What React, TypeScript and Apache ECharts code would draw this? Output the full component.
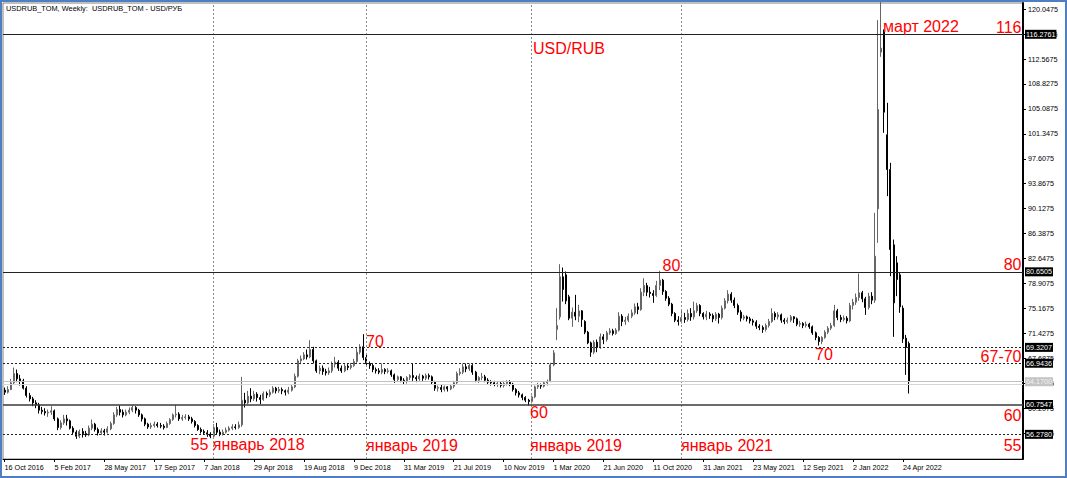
import React, { useEffect, useRef } from "react";
import * as echarts from "echarts";

const titleText = "USDRUB_TOM, Weekly:  USDRUB_TOM - USD/РУБ";

const tickLabels = [
  "16 Oct 2016", "5 Feb 2017", "28 May 2017", "17 Sep 2017", "7 Jan 2018",
  "29 Apr 2018", "19 Aug 2018", "9 Dec 2018", "31 Mar 2019", "21 Jul 2019",
  "10 Nov 2019", "1 Mar 2020", "21 Jun 2020", "11 Oct 2020", "31 Jan 2021",
  "23 May 2021", "12 Sep 2021", "2 Jan 2022", "24 Apr 2022",
];
const barsPerTick = 16;
const totalSlots = 327;

const priceTicks = [
  56.4675, 60.2075, 63.9475, 67.6875, 71.4275, 75.1675, 78.9075, 82.6475, 86.3875,
  90.1275, 93.8675, 97.6075, 101.3475, 105.0875, 108.8275, 112.5675, 116.3075, 120.0475,
];
const priceMin = 52.58;
const priceMax = 120.97;

// weekly bars: [open, close, low, high]
const bars2016 = [
  [62.9, 62.6, 62.2, 63.3], [62.6, 63.0, 62.4, 63.5], [63.0, 64.0, 62.9, 64.6], [64.0, 65.4, 63.8, 66.3],
  [65.4, 64.6, 64.1, 66.0], [64.6, 64.3, 63.6, 65.2], [64.3, 63.2, 63.0, 64.6], [63.2, 62.1, 61.8, 63.5],
  [62.1, 61.6, 61.2, 62.5], [61.6, 61.0, 60.5, 61.9], [61.0, 60.7, 60.2, 61.4],
];
const bars2017 = [
  [60.7, 59.9, 59.4, 61.0], [59.9, 59.7, 59.3, 60.4], [59.7, 59.5, 59.1, 60.2], [59.5, 59.6, 58.9, 60.0],
  [59.6, 59.8, 59.2, 60.5], [59.8, 58.6, 58.3, 60.0], [58.6, 57.3, 56.9, 58.8], [57.3, 58.0, 57.0, 58.4],
  [58.0, 58.6, 57.7, 59.2], [58.6, 58.3, 57.6, 59.2], [58.3, 57.2, 57.0, 58.5], [57.2, 56.6, 56.2, 57.5],
  [56.6, 56.0, 55.6, 56.9], [56.0, 56.7, 55.7, 57.0], [56.7, 56.4, 55.8, 57.2], [56.4, 56.2, 55.9, 56.8],
  [56.2, 57.2, 56.0, 57.6], [57.2, 57.8, 56.9, 58.5], [57.8, 57.0, 56.7, 58.0], [57.0, 56.5, 56.1, 57.3],
  [56.5, 56.8, 56.2, 57.2], [56.8, 56.6, 56.1, 57.1], [56.6, 57.1, 56.4, 57.5], [57.1, 57.9, 56.9, 58.2],
  [57.9, 59.2, 57.7, 59.6], [59.2, 60.0, 58.9, 60.4], [60.0, 59.6, 59.1, 60.6], [59.6, 59.2, 58.8, 60.0],
  [59.2, 59.6, 59.0, 60.0], [59.6, 59.9, 59.3, 60.3], [59.9, 60.3, 59.6, 60.6], [60.3, 59.9, 59.4, 60.5],
  [59.9, 59.2, 58.9, 60.1], [59.2, 58.6, 58.2, 59.4], [58.6, 57.8, 57.5, 58.8], [57.8, 57.4, 57.1, 58.0],
  [57.4, 57.6, 57.1, 58.0], [57.6, 57.8, 57.3, 58.2], [57.8, 57.6, 57.3, 58.1], [57.6, 57.5, 57.2, 58.0],
  [57.5, 57.3, 57.0, 57.8], [57.3, 57.9, 57.2, 58.2], [57.9, 58.5, 57.7, 58.7], [58.5, 59.2, 58.3, 59.4],
  [59.2, 59.3, 58.8, 60.7], [59.3, 58.6, 58.3, 59.6], [58.6, 58.8, 58.3, 59.2], [58.8, 58.9, 58.5, 59.3],
  [58.9, 58.6, 58.3, 59.2], [58.6, 58.2, 57.9, 58.9], [58.2, 57.6, 57.3, 58.4], [57.6, 57.0, 56.8, 57.8],
];
const bars2018 = [
  [57.0, 56.7, 56.4, 57.3], [56.7, 56.5, 56.2, 57.0], [56.5, 56.3, 55.9, 56.9], [56.3, 56.0, 55.7, 56.6],
  [56.0, 57.3, 55.8, 57.8], [57.3, 56.6, 56.3, 58.0], [56.6, 56.3, 56.0, 57.0], [56.3, 56.6, 56.1, 57.0],
  [56.6, 56.9, 56.4, 57.3], [56.9, 57.2, 56.7, 57.5], [57.2, 57.4, 56.9, 57.8], [57.4, 57.3, 57.0, 57.8],
  [57.3, 57.7, 57.1, 58.2], [57.7, 61.4, 57.4, 64.9], [61.4, 61.0, 60.3, 62.5], [61.0, 62.0, 60.8, 62.8],
  [62.0, 61.6, 61.1, 63.2], [61.6, 62.3, 61.3, 62.8], [62.3, 61.8, 61.2, 62.6], [61.8, 61.5, 60.8, 62.2],
  [61.5, 62.4, 61.3, 62.7], [62.4, 62.2, 61.7, 62.7], [62.2, 62.6, 61.9, 63.0], [62.6, 63.2, 62.4, 63.5],
  [63.2, 62.8, 62.4, 63.4], [62.8, 63.0, 62.5, 63.4], [63.0, 62.8, 62.3, 63.3], [62.8, 62.6, 62.1, 63.0],
  [62.6, 62.9, 62.3, 63.4], [62.9, 63.4, 62.7, 63.7], [63.4, 65.0, 63.2, 65.4], [65.0, 67.3, 64.8, 67.6],
  [67.3, 67.6, 66.8, 68.1], [67.6, 68.2, 67.4, 68.6], [68.2, 67.9, 67.5, 69.0], [67.9, 69.0, 67.7, 70.4],
  [69.0, 67.3, 66.9, 69.4], [67.3, 65.8, 65.5, 67.5], [65.8, 66.2, 65.3, 66.6], [66.2, 65.7, 65.2, 66.6],
  [65.7, 65.5, 65.1, 66.1], [65.5, 65.8, 65.2, 66.3], [65.8, 66.8, 65.5, 67.2], [66.8, 67.1, 66.3, 67.9],
  [67.1, 66.2, 65.8, 67.4], [66.2, 65.8, 65.5, 66.6], [65.8, 66.5, 65.6, 66.8], [66.5, 66.3, 65.9, 66.8],
  [66.3, 66.6, 66.0, 67.0], [66.6, 67.2, 66.4, 67.6], [67.2, 68.6, 67.0, 69.2], [68.6, 69.4, 68.3, 69.8],
];
const bars2019 = [
  [69.4, 67.8, 67.4, 71.3], [67.8, 66.9, 66.6, 68.2], [66.9, 66.6, 66.1, 67.2], [66.6, 66.0, 65.6, 66.9],
  [66.0, 65.8, 65.4, 66.3], [65.8, 65.6, 65.3, 66.2], [65.6, 66.0, 65.3, 66.9], [66.0, 65.7, 65.3, 66.2],
  [65.7, 65.8, 65.4, 66.2], [65.8, 65.2, 64.9, 66.0], [65.2, 64.5, 64.0, 65.4], [64.5, 64.9, 64.2, 65.1],
  [64.9, 64.4, 64.1, 65.0], [64.4, 64.3, 63.8, 64.7], [64.3, 64.8, 63.9, 65.0], [64.8, 65.1, 64.4, 65.3],
  [65.1, 64.8, 64.3, 66.9], [64.8, 64.6, 64.1, 65.1], [64.6, 65.0, 64.3, 65.4], [65.0, 64.7, 64.3, 65.2],
  [64.7, 65.1, 64.4, 65.4], [65.1, 64.9, 64.5, 65.4], [64.9, 64.1, 63.8, 65.1], [64.1, 63.2, 62.8, 64.3],
  [63.2, 63.3, 62.7, 63.6], [63.3, 63.0, 62.6, 63.7], [63.0, 63.4, 62.7, 63.6], [63.4, 63.1, 62.7, 63.5],
  [63.1, 63.5, 62.9, 63.8], [63.5, 64.0, 63.2, 64.3], [64.0, 65.4, 63.8, 65.7], [65.4, 65.6, 65.1, 66.2],
  [65.6, 66.4, 65.3, 66.9], [66.4, 66.1, 65.6, 66.9], [66.1, 66.6, 65.8, 66.9], [66.6, 65.6, 65.2, 66.8],
  [65.6, 64.4, 64.1, 65.8], [64.4, 64.8, 64.0, 65.0], [64.8, 64.9, 64.4, 65.5], [64.9, 64.4, 64.1, 65.2],
  [64.4, 64.1, 63.8, 64.7], [64.1, 64.0, 63.6, 64.4], [64.0, 63.8, 63.5, 64.3], [63.8, 63.9, 63.4, 64.2],
  [63.9, 63.6, 63.3, 64.2], [63.6, 63.9, 63.3, 64.3], [63.9, 64.1, 63.6, 64.4], [64.1, 63.8, 63.5, 64.4],
  [63.8, 63.0, 62.7, 64.0], [63.0, 62.5, 62.1, 63.2], [62.5, 62.2, 61.8, 62.8], [62.2, 61.8, 61.4, 62.4],
];
const bars2020 = [
  [61.8, 61.4, 61.1, 62.0], [61.4, 61.2, 60.6, 61.6], [61.2, 61.9, 60.9, 62.1], [61.9, 63.4, 61.7, 63.6],
  [63.4, 63.6, 63.1, 64.0], [63.6, 63.5, 63.1, 63.9], [63.5, 64.0, 63.3, 64.2], [64.0, 64.2, 63.6, 64.5],
  [64.3, 66.7, 64.1, 67.0], [66.7, 68.5, 66.5, 68.9], [72.0, 72.6, 70.4, 75.2], [73.9, 79.9, 73.5, 81.8],
  [79.9, 78.0, 76.2, 81.3], [80.2, 76.3, 75.8, 80.7], [76.9, 73.7, 73.4, 77.2], [73.7, 74.6, 72.4, 75.3],
  [74.6, 74.0, 73.4, 77.2], [74.0, 74.8, 73.1, 75.7], [74.8, 73.5, 72.4, 74.9], [73.2, 71.6, 71.3, 73.4],
  [71.6, 70.0, 69.8, 71.8], [70.0, 68.6, 67.9, 70.2], [68.6, 70.1, 68.3, 70.4], [70.1, 69.3, 68.6, 70.5],
  [69.3, 70.9, 69.1, 71.4], [70.9, 70.5, 69.8, 71.3], [70.5, 71.5, 70.2, 71.8], [71.5, 71.8, 71.2, 72.2],
  [71.8, 71.4, 71.1, 72.1], [71.4, 71.9, 71.2, 72.2], [71.9, 74.0, 71.7, 74.6], [74.0, 73.2, 72.5, 74.3],
  [73.2, 73.4, 72.7, 73.9], [73.4, 74.0, 73.1, 74.4], [74.0, 74.5, 73.7, 75.0], [74.5, 75.4, 74.2, 75.9],
  [75.4, 75.0, 74.3, 76.0], [75.0, 77.6, 74.8, 78.2], [77.6, 78.6, 77.0, 79.7], [78.6, 77.6, 77.0, 79.0],
  [77.6, 77.4, 76.8, 78.4], [77.4, 77.1, 76.0, 77.9], [77.1, 78.6, 76.9, 79.3], [78.6, 79.4, 77.9, 80.8],
  [79.4, 77.7, 77.2, 79.6], [77.7, 76.7, 76.3, 77.9], [76.7, 75.8, 75.5, 77.0], [75.8, 74.4, 74.0, 76.0],
  [74.4, 73.4, 73.1, 74.6], [73.4, 73.2, 72.6, 74.0], [73.2, 73.8, 72.9, 74.8], [73.8, 73.5, 73.0, 74.5],
];
const bars2021 = [
  [73.5, 74.4, 73.2, 75.0], [74.4, 73.9, 73.3, 75.2], [73.9, 74.8, 73.5, 76.2], [74.8, 75.6, 74.5, 76.0],
  [75.6, 74.4, 74.0, 75.8], [74.4, 73.9, 73.5, 74.6], [73.9, 74.3, 73.4, 74.8], [74.3, 74.1, 73.6, 74.6],
  [74.1, 73.6, 73.1, 74.4], [73.6, 74.3, 73.3, 74.6], [74.3, 73.8, 72.9, 74.5], [73.8, 75.2, 73.5, 75.6],
  [75.2, 76.3, 75.0, 76.7], [76.3, 77.3, 75.9, 77.9], [77.3, 76.4, 76.0, 77.6], [76.4, 75.6, 75.2, 76.8],
  [75.6, 74.6, 74.2, 75.9], [74.6, 73.7, 73.2, 74.9], [73.7, 73.9, 73.4, 74.2], [73.9, 73.6, 73.2, 74.1],
  [73.6, 73.3, 72.9, 73.9], [73.3, 73.1, 72.6, 73.6], [73.1, 72.5, 72.1, 73.4], [72.5, 72.3, 71.9, 72.8],
  [72.3, 72.0, 71.5, 72.6], [72.0, 72.6, 71.7, 72.9], [72.6, 73.2, 72.3, 73.6], [73.2, 74.4, 73.0, 75.2],
  [74.4, 73.9, 73.4, 74.7], [73.9, 74.2, 73.5, 74.6], [74.2, 73.4, 73.0, 74.4], [73.4, 73.2, 72.8, 73.7],
  [73.2, 73.4, 72.9, 73.8], [73.4, 73.9, 73.1, 74.2], [73.9, 73.6, 73.0, 74.0], [73.6, 72.8, 72.5, 73.8],
  [72.8, 72.9, 72.4, 73.3], [72.9, 72.6, 72.2, 73.1], [72.6, 72.8, 72.3, 73.2], [72.8, 72.4, 72.1, 73.0],
  [72.4, 71.5, 71.2, 72.6], [71.5, 70.8, 70.4, 71.7], [70.8, 70.2, 69.6, 71.0], [70.2, 70.8, 69.8, 71.0],
  [70.8, 71.6, 70.6, 71.9], [71.6, 72.2, 71.3, 72.5], [72.2, 72.6, 71.9, 73.0], [72.6, 74.8, 72.4, 75.7],
  [74.8, 73.8, 73.4, 75.1], [73.8, 73.5, 73.1, 74.2], [73.5, 73.7, 73.2, 74.1], [73.7, 73.3, 72.9, 74.0],
];
const bars2022 = [
  [73.3, 75.6, 73.1, 76.0], [75.6, 76.1, 75.0, 76.6], [76.1, 76.8, 75.7, 77.4], [76.8, 77.5, 76.3, 80.4],
  [77.5, 76.6, 76.1, 77.8], [76.6, 75.3, 74.2, 76.9], [75.3, 77.0, 75.0, 77.5], [77.0, 76.4, 75.8, 77.6],
  [76.4, 83.0, 76.0, 89.5], [90.1, 105.0, 85.0, 118.4], [113.6, 114.2, 112.9, 121.5], [116.6, 104.6, 101.5, 117.0],
  [101.2, 96.0, 92.0, 106.0], [96.0, 84.0, 80.0, 97.0], [84.7, 76.0, 70.9, 85.5], [82.0, 79.5, 77.0, 83.0],
  [80.2, 75.4, 74.5, 80.5], [75.2, 70.6, 70.0, 75.6], [70.7, 69.3, 65.2, 71.2], [69.9, 64.17, 62.4, 70.2],
];

const solidLevels = [116.2761, 80.6505];
const dottedLevels = [69.3207, 66.9436, 56.278];
const supportLevel = 60.7547;
const bidLevel = 64.17;
const askLevel = 63.85;
const markerBars = [67, 116, 169, 217];

const notes = [
  { text: "USD/RUB", x: 533, y: 48, align: "left" },
  { text: "март 2022", x: 883, y: 26, align: "left" },
  { text: "116", x: 1021.5, y: 27, align: "right" },
  { text: "80", x: 662.5, y: 265, align: "left" },
  { text: "80", x: 1021.5, y: 264.5, align: "right" },
  { text: "70", x: 366, y: 341.5, align: "left" },
  { text: "70", x: 815, y: 354, align: "left" },
  { text: "67-70", x: 1021.5, y: 356.5, align: "right" },
  { text: "60", x: 530, y: 412.5, align: "left" },
  { text: "60", x: 1021.5, y: 415, align: "right" },
  { text: "55 январь 2018", x: 190.5, y: 444, align: "left" },
  { text: "январь 2019", x: 366, y: 445, align: "left" },
  { text: "январь 2019", x: 530, y: 445, align: "left" },
  { text: "январь 2021", x: 681, y: 445, align: "left" },
  { text: "55", x: 1021.5, y: 445, align: "right" },
];

const SMALL_FONT = "'Liberation Sans', Arial, sans-serif";

export default function App() {
  const ref = useRef<HTMLDivElement>(null);

  useEffect(() => {
    if (!ref.current) return;
    const chart = echarts.init(ref.current, null, { renderer: "svg" });
    const candles = [...bars2016, ...bars2017, ...bars2018, ...bars2019, ...bars2020, ...bars2021, ...bars2022];
    const categories = Array.from({ length: totalSlots }, (_, i) => String(i));
    const isTick = (i: number) => i % barsPerTick === 0 && i / barsPerTick < tickLabels.length;

    const boxLabel = (level: number, bg: string, fg: string) => ({
      show: true,
      position: "end",
      distance: 2,
      formatter: () => level.toFixed(4),
      backgroundColor: bg,
      color: fg,
      fontSize: 7.2,
      fontFamily: SMALL_FONT,
      padding: [1, 1, 0, 1],
      lineHeight: 8,
    });

    const markData: any[] = [
      ...markerBars.map((i) => ({
        xAxis: i,
        lineStyle: { color: "#8a8a8a", width: 1, type: [2, 2] },
        label: { show: false },
      })),
      { yAxis: askLevel, lineStyle: { color: "#d6d6d6", width: 1, type: "solid" }, label: { show: false } },
      { yAxis: bidLevel, lineStyle: { color: "#c0c0c0", width: 1, type: "solid" }, label: boxLabel(bidLevel, "#c4c4c4", "#f2f2f2") },
      ...solidLevels.map((v) => ({
        yAxis: v,
        lineStyle: { color: "#222", width: 1, type: "solid" },
        label: boxLabel(v, "#000", "#fff"),
      })),
      ...dottedLevels.map((v) => ({
        yAxis: v,
        lineStyle: { color: "#222", width: 1, type: [2, 2] },
        label: boxLabel(v, "#000", "#fff"),
      })),
      { yAxis: supportLevel, lineStyle: { color: "#3a3a3a", width: 1.5, type: "solid" }, label: boxLabel(supportLevel, "#000", "#fff") },
    ];

    const option: any = {
      animation: false,
      backgroundColor: "#ffffff",
      grid: {
        left: 3,
        right: 44,
        top: 3,
        bottom: 19,
        containLabel: false,
        outerBoundsMode: "none",
        show: true,
        borderColor: "#808080",
        borderWidth: 1,
        backgroundColor: "#ffffff",
      },
      xAxis: {
        type: "category",
        data: categories,
        boundaryGap: true,
        axisLine: { show: true, lineStyle: { color: "#000", width: 1 } },
        axisTick: {
          show: true,
          alignWithLabel: true,
          interval: (i: number) => isTick(i),
          length: 3,
          lineStyle: { color: "#000" },
        },
        axisLabel: {
          show: true,
          interval: (i: number) => isTick(i),
          formatter: (_v: string, i: number) => (isTick(i) ? tickLabels[i / barsPerTick] : ""),
          align: "left",
          margin: 5,
          fontSize: 7.2,
          fontFamily: SMALL_FONT,
          color: "#000",
        },
        splitLine: { show: false },
      },
      yAxis: {
        type: "value",
        position: "right",
        min: priceMin,
        max: priceMax,
        scale: true,
        axisLine: { show: true, lineStyle: { color: "#000", width: 2 } },
        axisTick: { show: true, customValues: priceTicks, length: 3, lineStyle: { color: "#000" } },
        axisLabel: {
          show: true,
          customValues: priceTicks,
          formatter: (v: number) => v.toFixed(4),
          margin: 5,
          fontSize: 7.2,
          fontFamily: SMALL_FONT,
          color: "#000",
        },
        splitLine: { show: false },
      },
      series: [
        {
          type: "candlestick",
          data: candles,
          barWidth: 1.5,
          clip: true,
          silent: true,
          itemStyle: {
            color: "#8c8c8c",
            color0: "#000000",
            borderColor: "#666666",
            borderColor0: "#000000",
            borderWidth: 1,
          },
          markLine: {
            silent: true,
            symbol: ["none", "none"],
            precision: 4,
            animation: false,
            data: markData,
          },
        },
      ],
      graphic: [
        {
          type: "text",
          x: 6,
          y: 8,
          z: 100,
          silent: true,
          style: {
            text: titleText,
            fill: "#000",
            font: "7.4px 'Liberation Sans', Arial, sans-serif",
            align: "left",
            verticalAlign: "middle",
          },
        },
        ...notes.map((n) => ({
          type: "text",
          x: n.x,
          y: n.y,
          z: 100,
          silent: true,
          style: {
            text: n.text,
            fill: "#ff0000",
            font: "16px 'Liberation Sans', Arial, sans-serif",
            align: n.align,
            verticalAlign: "middle",
          },
        })),
        {
          type: "rect",
          z: 101,
          silent: true,
          shape: { x: 1, y: 1, width: 1065, height: 476 },
          style: { fill: "transparent", stroke: "#4f7fc0", lineWidth: 2 },
        },
      ],
    };

    chart.setOption(option);
    return () => chart.dispose();
  }, []);

  return (
    <div
      ref={ref}
      style={{ position: "absolute", left: 0, top: 0, width: 1067, height: 478, background: "#fff" }}
    />
  );
}
